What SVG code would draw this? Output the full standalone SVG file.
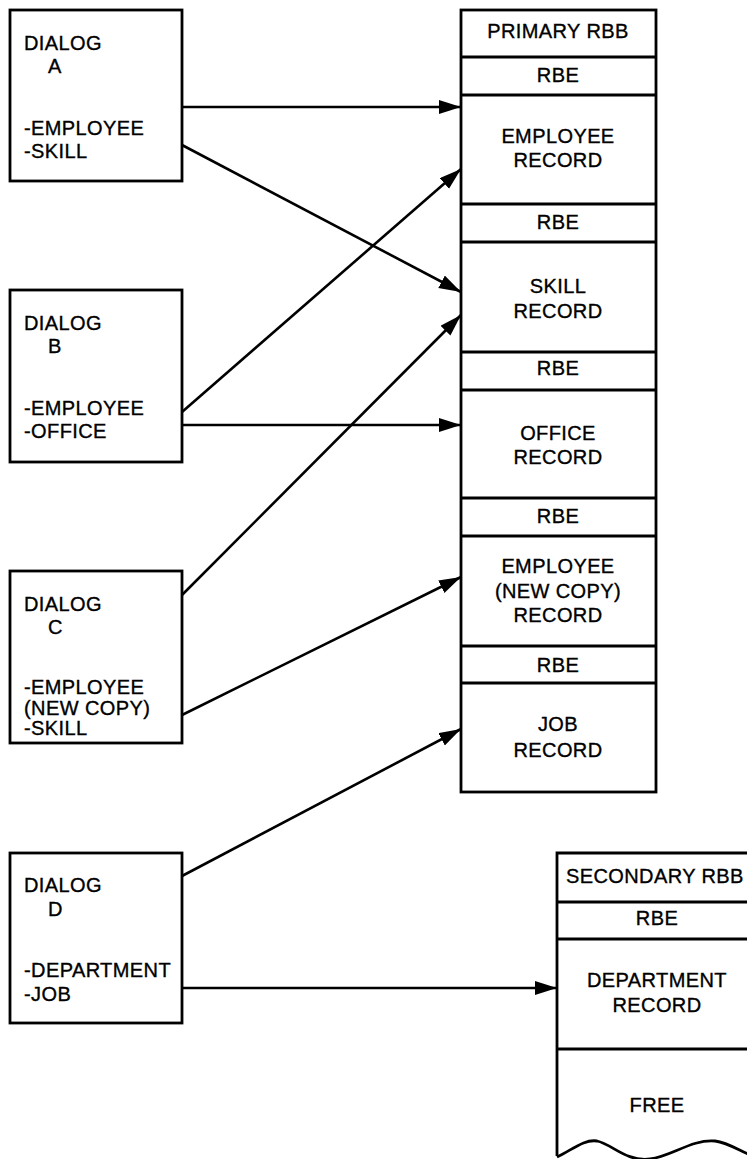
<svg xmlns="http://www.w3.org/2000/svg" width="747" height="1159" viewBox="0 0 747 1159">
  <style>
    .box { fill: #fff; stroke: #000; stroke-width: 2.8; }
    .sep { stroke: #000; stroke-width: 2.8; fill: none; }
    .t { font-family: "Liberation Sans", Arial, sans-serif; font-size: 20px; fill: #000; stroke: #000; stroke-width: 0.35; letter-spacing: 0.4px; }
    .c { text-anchor: middle; }
    .conn { stroke: #000; stroke-width: 2.6; fill: none; marker-end: url(#arrow); }
  </style>
  <defs>
    <marker id="arrow" markerUnits="userSpaceOnUse" markerWidth="24" markerHeight="16" refX="22" refY="7" orient="auto">
      <path d="M0,0 L22,7 L0,14 z" fill="#000"/>
    </marker>
  </defs>
  <rect width="747" height="1159" fill="#fff"/>

  <!-- dialog boxes -->
  <g id="dialog-a">
    <rect class="box" x="10" y="10" width="172" height="171"/>
    <text class="t" x="24" y="50">DIALOG</text>
    <text class="t" x="48" y="73">A</text>
    <text class="t" x="24" y="135">-EMPLOYEE</text>
    <text class="t" x="24" y="158">-SKILL</text>
  </g>
  <g id="dialog-b">
    <rect class="box" x="10" y="290" width="172" height="172"/>
    <text class="t" x="24" y="330">DIALOG</text>
    <text class="t" x="48" y="353">B</text>
    <text class="t" x="24" y="415">-EMPLOYEE</text>
    <text class="t" x="24" y="438">-OFFICE</text>
  </g>
  <g id="dialog-c">
    <rect class="box" x="10" y="571" width="172" height="172"/>
    <text class="t" x="24" y="611">DIALOG</text>
    <text class="t" x="48" y="634">C</text>
    <text class="t" x="24" y="694">-EMPLOYEE</text>
    <text class="t" x="24" y="715">(NEW COPY)</text>
    <text class="t" x="24" y="735">-SKILL</text>
  </g>
  <g id="dialog-d">
    <rect class="box" x="10" y="853" width="172" height="170"/>
    <text class="t" x="24" y="892">DIALOG</text>
    <text class="t" x="48" y="916">D</text>
    <text class="t" x="24" y="977">-DEPARTMENT</text>
    <text class="t" x="24" y="1001">-JOB</text>
  </g>

  <!-- primary record buffer block -->
  <g id="primary-rbb">
    <rect class="box" x="461" y="10" width="195" height="782"/>
    <line class="sep" x1="461" y1="57" x2="656" y2="57"/>
    <line class="sep" x1="461" y1="95" x2="656" y2="95"/>
    <line class="sep" x1="461" y1="204" x2="656" y2="204"/>
    <line class="sep" x1="461" y1="242" x2="656" y2="242"/>
    <line class="sep" x1="461" y1="352" x2="656" y2="352"/>
    <line class="sep" x1="461" y1="390" x2="656" y2="390"/>
    <line class="sep" x1="461" y1="498" x2="656" y2="498"/>
    <line class="sep" x1="461" y1="536" x2="656" y2="536"/>
    <line class="sep" x1="461" y1="646" x2="656" y2="646"/>
    <line class="sep" x1="461" y1="683" x2="656" y2="683"/>
    <text class="t c" x="558" y="38">PRIMARY RBB</text>
    <text class="t c" x="558" y="82">RBE</text>
    <text class="t c" x="558" y="143">EMPLOYEE</text>
    <text class="t c" x="558" y="167">RECORD</text>
    <text class="t c" x="558" y="229">RBE</text>
    <text class="t c" x="558" y="293">SKILL</text>
    <text class="t c" x="558" y="318">RECORD</text>
    <text class="t c" x="558" y="375">RBE</text>
    <text class="t c" x="558" y="440">OFFICE</text>
    <text class="t c" x="558" y="464">RECORD</text>
    <text class="t c" x="558" y="523">RBE</text>
    <text class="t c" x="558" y="573">EMPLOYEE</text>
    <text class="t c" x="558" y="598">(NEW COPY)</text>
    <text class="t c" x="558" y="622">RECORD</text>
    <text class="t c" x="558" y="672">RBE</text>
    <text class="t c" x="558" y="731">JOB</text>
    <text class="t c" x="558" y="757">RECORD</text>
  </g>

  <!-- secondary record buffer block, torn at the bottom -->
  <g id="secondary-rbb">
    <path class="sep" fill="#fff" d="M557,1156 L557,853 L757,853 L757,1156"/>
    <path class="sep" d="M557,1157 C572,1150 584,1139 597,1141 C612,1144 626,1162 650,1159 C672,1156 692,1139 715,1141 C731,1143 745,1155 757,1157"/>
    <line class="sep" x1="557" y1="902" x2="757" y2="902"/>
    <line class="sep" x1="557" y1="939" x2="757" y2="939"/>
    <line class="sep" x1="557" y1="1049" x2="757" y2="1049"/>
    <text class="t" x="566" y="883">SECONDARY RBB</text>
    <text class="t c" x="657" y="925">RBE</text>
    <text class="t c" x="657" y="987">DEPARTMENT</text>
    <text class="t c" x="657" y="1012">RECORD</text>
    <text class="t c" x="657" y="1112">FREE</text>
  </g>

  <!-- connectors -->
  <g id="connectors">
    <line class="conn" x1="182" y1="107" x2="461" y2="107"/>
    <line class="conn" x1="182" y1="145" x2="461" y2="292"/>
    <line class="conn" x1="182" y1="412" x2="461" y2="169"/>
    <line class="conn" x1="182" y1="425" x2="461" y2="425"/>
    <line class="conn" x1="182" y1="595" x2="461" y2="315"/>
    <line class="conn" x1="182" y1="715" x2="461" y2="577"/>
    <line class="conn" x1="182" y1="876" x2="461" y2="729"/>
    <line class="conn" x1="182" y1="988" x2="557" y2="988"/>
  </g>
</svg>
